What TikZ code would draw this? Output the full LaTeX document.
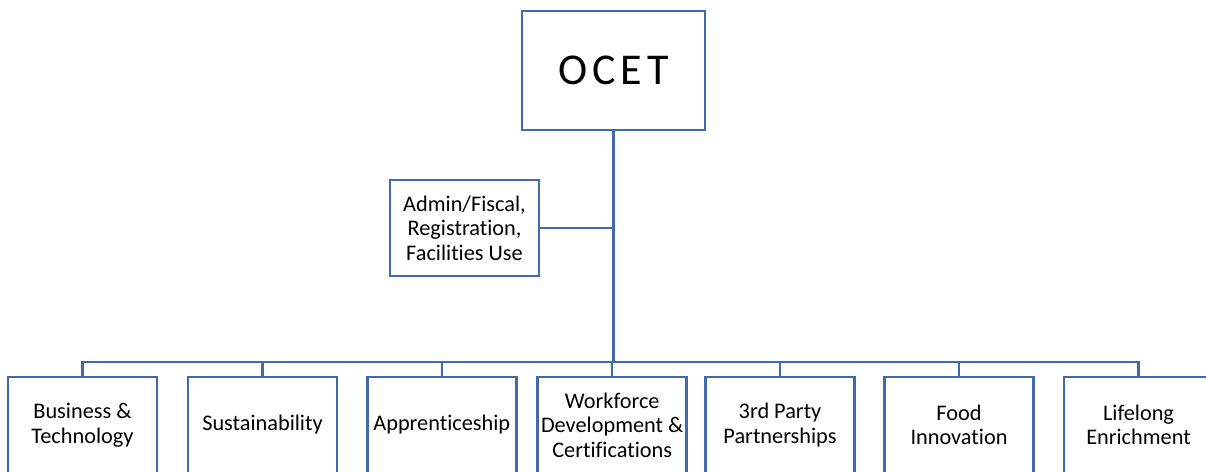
\documentclass[tikz,border=0pt]{standalone}
\usepackage{fontspec}
\setmainfont{Carlito}[Ligatures={NoCommon}]
\definecolor{boxblue}{HTML}{4268AE}
\begin{document}
\begin{tikzpicture}[x=1pt,y=-1pt,
  unit/.style={draw=boxblue, line width=2.8pt, fill=white, align=center,
    minimum width=149pt, minimum height=96pt, inner sep=2pt,
    font=\fontsize{22.3}{24.5}\selectfont},
  link/.style={draw=boxblue, line width=2.1pt}]
\useasboundingbox (0,0) rectangle (1206,471);
\clip (0,0) rectangle (1206,471);
\fill[white] (0,0) rectangle (1206,471);

% top of the organisation
\node[unit, minimum width=183pt, minimum height=119pt,
  font=\fontsize{44}{48}\selectfont] (ocet) at (613.5,70.5)
  {O\kern5pt C\kern5pt E\kern5pt T};

% staff unit beside the trunk
\node[unit] (admin) at (464.5,228) {Admin/Fiscal,\\Registration,\\Facilities Use};

% programme units
\node[unit] (b1) at (82.5,425)  {Business \&\\Technology};
\node[unit] (b2) at (262.5,425) {Sustainability};
\node[unit] (b3) at (441.8,425) {Apprenticeship};
\node[unit] (b4) at (612.2,425) {Workforce\\Development \&\\Certifications};
\node[unit] (b5) at (780,425)   {3rd Party\\Partnerships};
\node[unit] (b6) at (959,425)   {Food\\Innovation};
\node[unit] (b7) at (1138.5,425){Lifelong\\Enrichment};

% connectors
\coordinate (bus) at (613.5,362);
\draw[link] (ocet.south) -- (bus);
\draw[link] (admin.east) -- (admin.east -| ocet.south);
\foreach \b in {b1,b2,b3,b4,b5,b6,b7}
  \draw[link] (bus) -| (\b.north);
\end{tikzpicture}
\end{document}
